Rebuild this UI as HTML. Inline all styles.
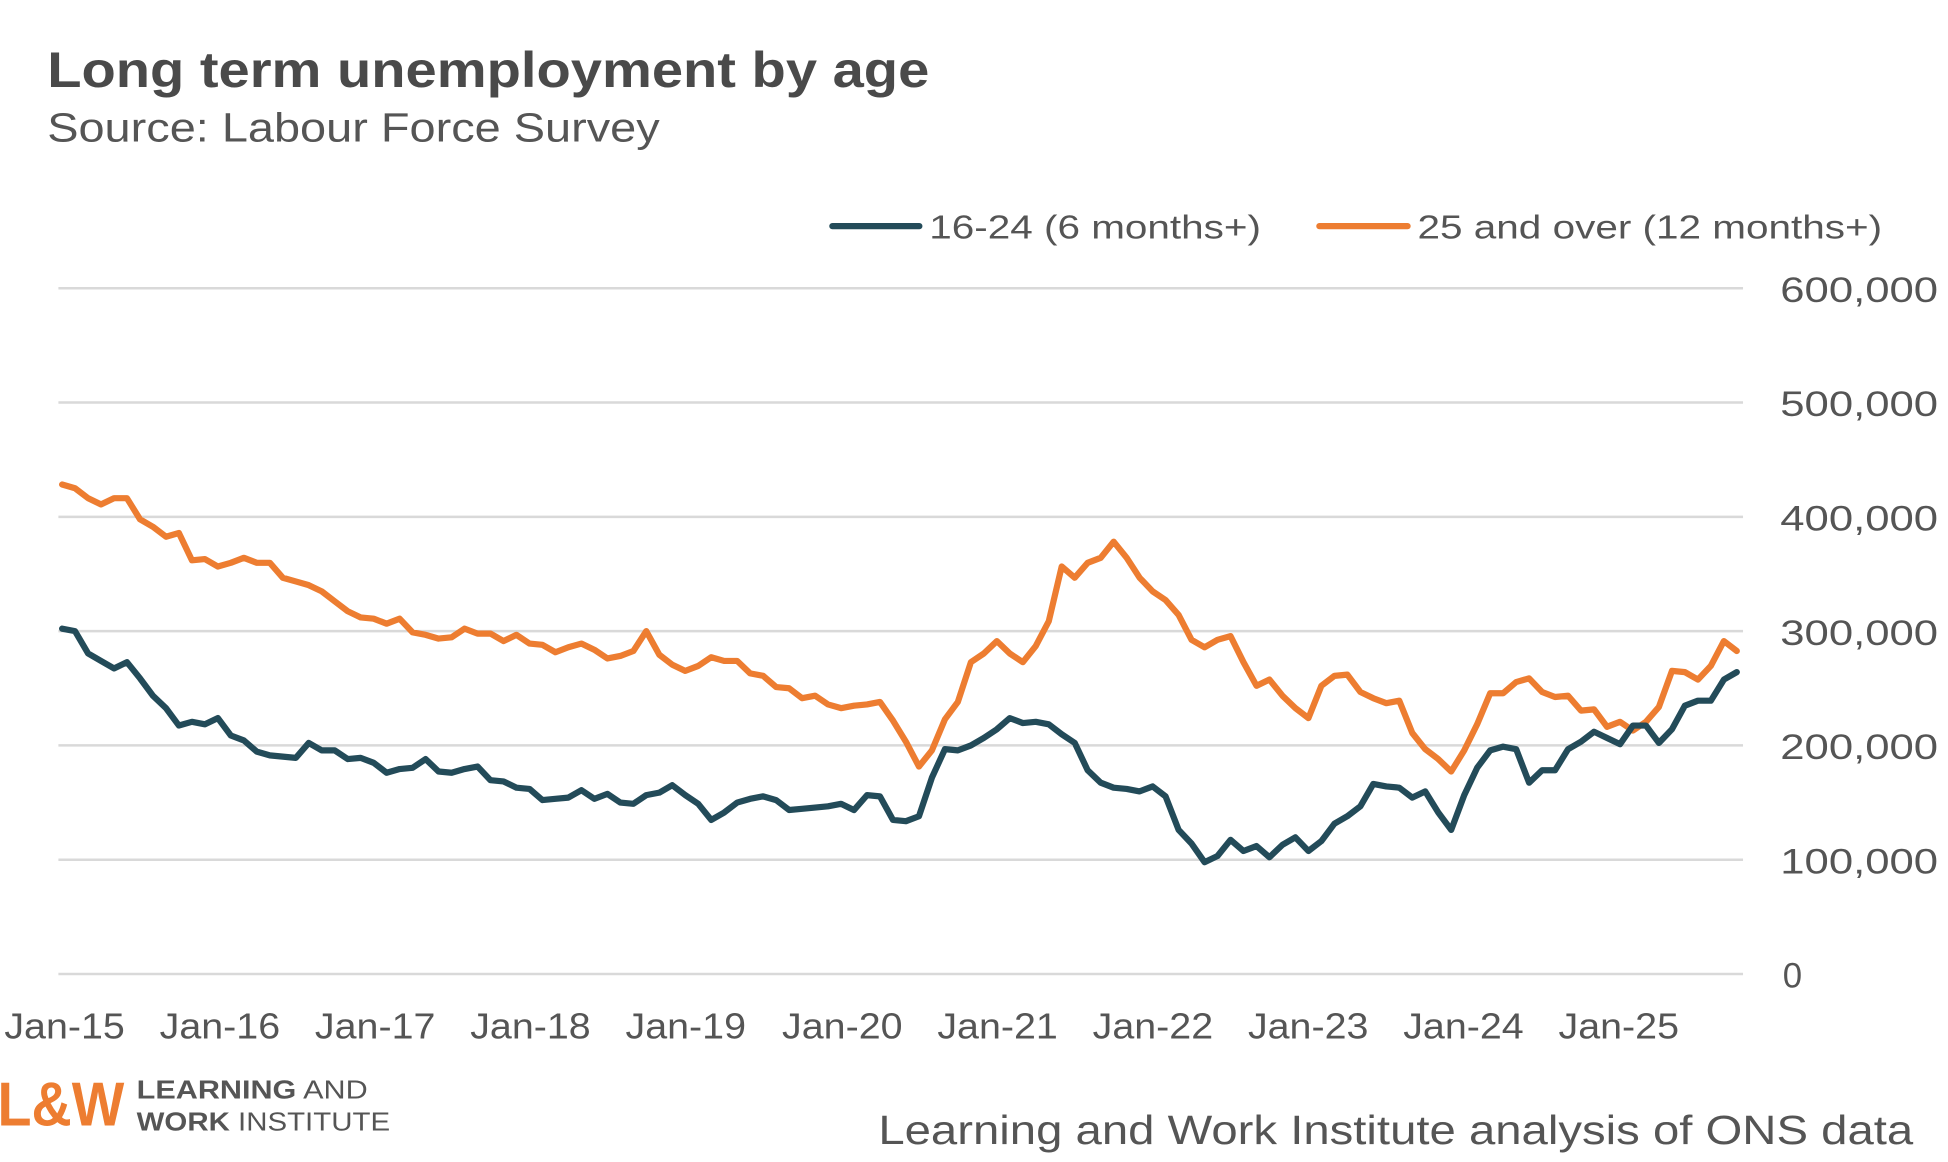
<!DOCTYPE html>
<html><head><meta charset="utf-8"><style>
html,body{margin:0;padding:0;background:#fff;}
svg{display:block;}
text{font-family:"Liberation Sans",sans-serif;}
</style></head><body>
<svg width="1948" height="1162" viewBox="0 0 1568 935.3" xmlns="http://www.w3.org/2000/svg">
<text x="38" y="70" font-size="40" font-weight="bold" fill="#4a4a4a" textLength="710" lengthAdjust="spacingAndGlyphs">Long term unemployment by age</text>
<text x="38" y="114" font-size="33" fill="#555" textLength="493" lengthAdjust="spacingAndGlyphs">Source: Labour Force Survey</text>
<line x1="670" y1="182" x2="740" y2="182" stroke="#234b59" stroke-width="5" stroke-linecap="round"/>
<text x="748" y="192" font-size="27" fill="#555" textLength="267" lengthAdjust="spacingAndGlyphs">16-24 (6 months+)</text>
<line x1="1062" y1="182" x2="1133" y2="182" stroke="#ed7d31" stroke-width="5" stroke-linecap="round"/>
<text x="1141" y="192" font-size="27" fill="#555" textLength="374" lengthAdjust="spacingAndGlyphs">25 and over (12 months+)</text>
<g stroke="#d9d9d9" stroke-width="2">
<line x1="47" y1="232" x2="1403" y2="232"/><line x1="47" y1="324" x2="1403" y2="324"/><line x1="47" y1="416" x2="1403" y2="416"/><line x1="47" y1="508" x2="1403" y2="508"/><line x1="47" y1="600" x2="1403" y2="600"/><line x1="47" y1="692" x2="1403" y2="692"/><line x1="47" y1="784" x2="1403" y2="784"/>
</g>
<g font-size="28" fill="#555">
<text x="1433" y="243" textLength="127" lengthAdjust="spacingAndGlyphs">600,000</text>
<text x="1433" y="335" textLength="127" lengthAdjust="spacingAndGlyphs">500,000</text>
<text x="1433" y="427" textLength="127" lengthAdjust="spacingAndGlyphs">400,000</text>
<text x="1433" y="519" textLength="127" lengthAdjust="spacingAndGlyphs">300,000</text>
<text x="1433" y="611" textLength="127" lengthAdjust="spacingAndGlyphs">200,000</text>
<text x="1433" y="703" textLength="127" lengthAdjust="spacingAndGlyphs">100,000</text>
<text x="1435" y="795">0</text>
</g>
<g font-size="29" fill="#555" text-anchor="middle">
<text x="52" y="836" textLength="97" lengthAdjust="spacingAndGlyphs">Jan-15</text><text x="177" y="836" textLength="97" lengthAdjust="spacingAndGlyphs">Jan-16</text><text x="302" y="836" textLength="97" lengthAdjust="spacingAndGlyphs">Jan-17</text><text x="427" y="836" textLength="97" lengthAdjust="spacingAndGlyphs">Jan-18</text><text x="552" y="836" textLength="97" lengthAdjust="spacingAndGlyphs">Jan-19</text><text x="678" y="836" textLength="97" lengthAdjust="spacingAndGlyphs">Jan-20</text><text x="803" y="836" textLength="97" lengthAdjust="spacingAndGlyphs">Jan-21</text><text x="928" y="836" textLength="97" lengthAdjust="spacingAndGlyphs">Jan-22</text><text x="1053" y="836" textLength="97" lengthAdjust="spacingAndGlyphs">Jan-23</text><text x="1178" y="836" textLength="97" lengthAdjust="spacingAndGlyphs">Jan-24</text><text x="1303" y="836" textLength="97" lengthAdjust="spacingAndGlyphs">Jan-25</text>
</g>
<polyline id="o" fill="none" stroke="#ed7d31" stroke-width="5" stroke-linejoin="round" stroke-linecap="round" points=""/>
<polyline id="d" fill="none" stroke="#234b59" stroke-width="5" stroke-linejoin="round" stroke-linecap="round" points=""/>
<text x="-2" y="906" font-size="50" font-weight="bold" fill="#ed7d31" textLength="102" lengthAdjust="spacingAndGlyphs">L&amp;W</text>
<text x="110" y="884" font-size="21" fill="#555" textLength="186" lengthAdjust="spacingAndGlyphs"><tspan font-weight="bold">LEARNING</tspan> AND</text>
<text x="110" y="910" font-size="21" fill="#555" textLength="204" lengthAdjust="spacingAndGlyphs"><tspan font-weight="bold">WORK</tspan> INSTITUTE</text>
<text x="1540" y="921" font-size="33" fill="#555" text-anchor="end" textLength="833" lengthAdjust="spacingAndGlyphs">Learning and Work Institute analysis of ONS data</text>
</svg>
<script>
var d=[506,508,526,532,538,533,546,560,570,584,581,583,578,592,596,605,608,609,610,598,604,604,611,610,614,622,619,618,611,621,622,619,617,628,629,634,635,644,643,642,636,643,639,646,647,640,638,632,640,647,660,654,646,643,641,644,652,651,650,649,647,652,640,641,660,661,657,626,603,604,600,594,587,578,582,581,583,591,598,620,630,634,635,637,633,641,668,679,694,689,676,685,681,690,680,674,685,677,663,657,649,631,633,634,642,637,654,668,640,618,604,601,603,630,620,620,603,597,589,594,599,584,584,598,587,568,564,564,547,541];
var o=[390,393,401,406,401,401,418,424,432,429,451,450,456,453,449,453,453,465,468,471,476,484,492,497,498,502,498,509,511,514,513,506,510,510,516,511,518,519,525,521,518,523,530,528,524,508,527,535,540,536,529,532,532,542,544,553,554,562,560,567,570,568,567,565,580,597,617,604,579,565,533,526,516,526,533,520,500,456,465,453,449,436,449,465,476,483,495,515,521,515,512,533,552,547,560,570,578,552,544,543,557,562,566,564,590,603,611,621,604,583,558,558,549,546,557,561,560,572,571,585,581,588,581,569,540,541,547,536,516,524];
function pts(a){return a.map(function(y,i){return (50+i*(1348/(a.length-1))).toFixed(1)+","+y}).join(" ");}
document.getElementById("d").setAttribute("points",pts(d));
document.getElementById("o").setAttribute("points",pts(o));
</script>
</body></html>
